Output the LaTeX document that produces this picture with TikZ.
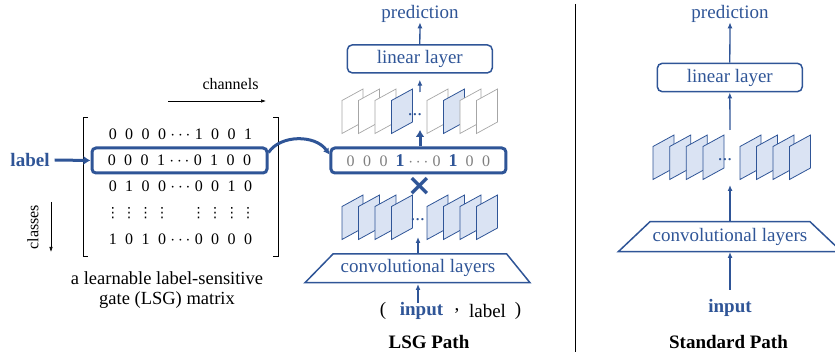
\documentclass[tikz,border=0pt]{standalone}
\usepackage{fontspec}
\setmainfont{Liberation Serif}
\newfontfamily\symfont{DejaVu Sans}
\usetikzlibrary{arrows.meta}
\definecolor{myblue}{HTML}{2F5597}
\definecolor{lightblue}{HTML}{DAE3F3}
\definecolor{mapgray}{HTML}{A6A6A6}
\definecolor{digitgray}{HTML}{7F7F7F}
\newcommand\dg[1]{\makebox[16.5pt]{#1}}
\newcommand\gdots{\makebox[20pt]{$\cdots$}}
\newcommand\vd{\makebox[16.5pt]{\symfont\fontsize{14}{14}\selectfont ⋮}}
\newcommand\fmap[3]{\draw[#3] (#1,#2) -- ++(21,-11.5) -- ++(0,33) -- ++(-21,11.5) -- cycle;}
\begin{document}
\begin{tikzpicture}[x=1pt,y=-1pt,
  txt/.style={font=\fontsize{19}{22}\selectfont, text=myblue, inner sep=0pt},
  btxt/.style={font=\fontsize{19}{22}\selectfont\bfseries, inner sep=0pt},
  small/.style={font=\fontsize{16}{19}\selectfont, inner sep=0pt},
  digits/.style={font=\fontsize{16}{19}\selectfont, inner sep=0pt},
  arr/.style={-{Latex[length=6pt,width=5pt]}, myblue, line width=1.3pt},
  thickarr/.style={-{Latex[length=7pt,width=9pt]}, myblue, line width=3pt},
  thinarr/.style={-{Latex[length=5pt,width=3.5pt]}, black, line width=0.6pt},
  linbox/.style={draw=myblue, line width=1.5pt, rounded corners=5pt, minimum width=145pt, minimum height=28pt, txt},
  hlbox/.style={draw=myblue, line width=3pt, rounded corners=4pt, minimum width=175pt, minimum height=25pt, inner sep=0pt},
  trap/.style={draw=myblue, line width=1.5pt},
  mapw/.style={draw=mapgray, fill=white, line width=0.7pt},
  mapb/.style={draw=myblue, fill=lightblue, line width=0.8pt}]
\useasboundingbox (0,0) rectangle (835,352);

% ---------------- matrix ----------------
\draw[line width=0.8pt] (88,117) -- (83,117) -- (83,256) -- (88,256);
\draw[line width=0.8pt] (273,117) -- (278,117) -- (278,256) -- (273,256);
\node[digits] (r1) at (180.5,134.2) {\dg0\dg0\dg0\dg0\gdots\dg1\dg0\dg0\dg1};
\node[hlbox, digits] (hl) at (179.5,160.5) {\dg0\dg0\dg0\dg1\gdots\dg0\dg1\dg0\dg0};
\node[digits] (r3) at (180.5,186.2) {\dg0\dg1\dg0\dg0\gdots\dg0\dg0\dg1\dg0};
\node[digits] (r4) at (180.5,213.5) {\vd\vd\vd\vd\makebox[20pt]{}\vd\vd\vd\vd};
\node[digits] (r5) at (180.5,239.7) {\dg1\dg0\dg1\dg0\gdots\dg0\dg0\dg0\dg0};

\node[small] (chan) at (230.5,84) {channels};
\coordinate (ch1) at (168,101);
\coordinate (ch2) at (266,101);
\draw[thinarr] (ch1) -- (ch2);
\node[small, rotate=90] (cls) at (33,227) {classes};
\coordinate (cl1) at (51,202);
\coordinate (cl2) at (51,252);
\draw[thinarr] (cl1) -- (cl2);

\node[btxt, text=myblue] (lab) at (30,160) {label};
\draw[thickarr] (lab.east) ++(5,0) -- (hl.west);

\node[inner sep=0pt, font=\fontsize{18.5}{22}\selectfont] (cap1) at (167,278) {a learnable label-sensitive};
\node[inner sep=0pt, font=\fontsize{18.5}{22}\selectfont] (cap2) at (167,300.5) {gate (LSG) matrix};

% ---------------- LSG path ----------------
\node[txt] (pred1) at (420,13.5) {prediction};
\node[linbox] (lin1) at (419.8,58.9) {linear layer};
\draw[arr] (lin1.north) -- (pred1.south);

% upper maps
\fmap{342}{100.5}{mapw}
\fmap{358.5}{100.5}{mapw}
\fmap{375}{100.5}{mapw}
\fmap{391.5}{100.5}{mapb}
\fmap{427}{100.5}{mapw}
\fmap{443.5}{100.5}{mapb}
\fmap{460}{100.5}{mapw}
\fmap{476.5}{100.5}{mapw}
\node[txt] (dots1) at (415,115) {...};
\coordinate (m1top) at (420,92);
\coordinate (m1bot) at (420,130);
\draw[arr] (m1top) -- ([yshift=-6pt]lin1.south);

% gate vector
\node[hlbox, font=\fontsize{16}{19}\selectfont, text=digitgray] (gate) at (418.4,160.5)
  {\dg0\dg0\dg0\dg{\textcolor{myblue}{\fontsize{18}{19}\selectfont\bfseries 1}}\gdots\dg0\dg{\textcolor{myblue}{\fontsize{18}{19}\selectfont\bfseries 1}}\dg0\dg0};
\draw[thickarr] (gate.north -| m1bot) -- (m1bot);
\draw[-{Latex[length=6pt,width=7pt]}, myblue, line width=3pt] ([yshift=8pt]hl.east) .. controls +(12,-18) and +(-14,-20) .. ([yshift=6pt]gate.west);

\node[inner sep=0pt, text=myblue, font=\symfont\fontsize{30}{30}\selectfont\bfseries] (times) at (419.5,186) {×};

% lower maps
\fmap{342}{206.5}{mapb}
\fmap{358.5}{206.5}{mapb}
\fmap{375}{206.5}{mapb}
\fmap{391.5}{206.5}{mapb}
\fmap{427}{206.5}{mapb}
\fmap{443.5}{206.5}{mapb}
\fmap{460}{206.5}{mapb}
\fmap{476.5}{206.5}{mapb}
\node[txt] (dots2) at (417.7,220) {...};
\coordinate (m2bot) at (418,237);

% conv trapezoid
\draw[trap] (333,254) -- (506.7,254) -- (530,282.7) -- (305,282.7) -- cycle;
\node[txt] (conv1) at (418,268) {convolutional layers};
\coordinate (c1top) at (418,254);
\coordinate (c1bot) at (418,284);
\draw[arr] (c1top) -- (m2bot);

\node[txt, text=black] (p1) at (383,311) {(};
\node[btxt, text=myblue] (in1) at (421.5,311) {input};
\node[txt, text=black] (cm) at (457,311) {,};
\node[txt, text=black] (lab2) at (487.5,311) {label};
\node[txt, text=black] (p2) at (518,311) {)};
\coordinate (in1top) at (418,303);
\draw[arr] (in1top) -- (c1bot);

\node[btxt] (lsg) at (429,342.5) {LSG Path};

% divider
\coordinate (dv1) at (575,4);
\coordinate (dv2) at (575,352);
\draw[line width=1pt] (dv1) -- (dv2);

% ---------------- Standard path ----------------
\node[txt] (pred2) at (730,13.5) {prediction};
\node[linbox, minimum height=28.4pt] (lin2) at (729.8,77.5) {linear layer};
\draw[arr] (lin2.north) -- (pred2.south);

\fmap{653}{146.5}{mapb}
\fmap{669.7}{146.5}{mapb}
\fmap{686.3}{146.5}{mapb}
\fmap{703}{146.5}{mapb}
\fmap{740}{146.5}{mapb}
\fmap{756.5}{146.5}{mapb}
\fmap{773}{146.5}{mapb}
\fmap{789.5}{146.5}{mapb}
\node[txt] (dots3) at (725,160) {...};
\coordinate (m3top) at (730,130);
\coordinate (m3bot) at (730,185);
\draw[arr] (m3top) -- (lin2.south);

\draw[trap] (650,221.7) -- (810,221.7) -- (841.7,251.7) -- (618.3,251.7) -- cycle;
\node[txt] (conv2) at (730,237) {convolutional layers};
\coordinate (c2top) at (730,221.7);
\coordinate (c2bot) at (730,252);
\draw[arr] (c2top) -- (m3bot);

\node[btxt, text=myblue] (in2) at (730,308.3) {input};
\coordinate (in2top) at (730,290);
\draw[arr] (in2top) -- (c2bot);

\node[btxt] (std) at (728.5,342.5) {Standard Path};
\end{tikzpicture}
\end{document}
